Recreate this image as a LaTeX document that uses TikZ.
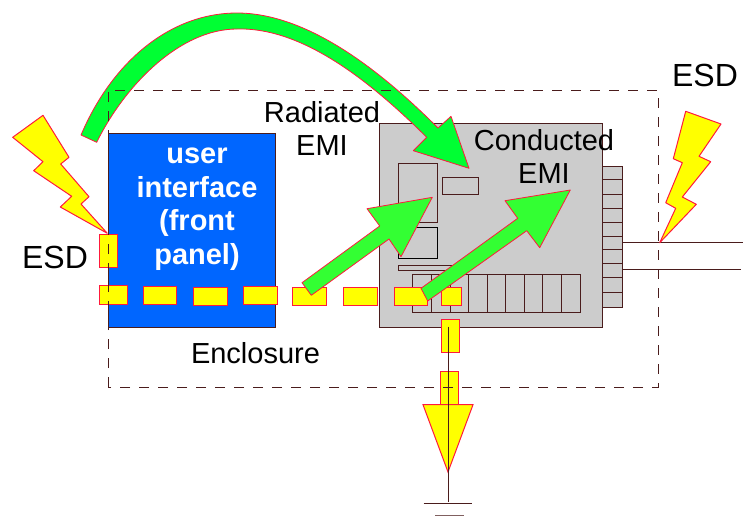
\documentclass[tikz,border=0pt]{standalone}
\usepackage{fontspec}
\setmainfont{Liberation Sans}
\definecolor{wirebrown}{HTML}{4A1C1C}
\definecolor{boardgray}{HTML}{CCCCCC}
\definecolor{panelblue}{HTML}{0066FF}
\definecolor{edgered}{HTML}{FF1A3C}
\definecolor{sparkyellow}{HTML}{FFFF00}
\definecolor{arcgreen}{HTML}{00FF33}
\definecolor{emigreen}{HTML}{33FF33}
\tikzset{
  labeltext/.style={font=\fontsize{29}{33}\selectfont, align=center, anchor=base, inner sep=0pt},
  esdtext/.style={labeltext, font=\fontsize{32}{33}\selectfont},
  paneltext/.style={labeltext, font=\fontsize{29}{33.4}\selectfont\bfseries, text=white},
  wire/.style={draw=wirebrown, line width=1pt},
  part/.style={wire, line width=0.9pt},
  hotspot/.style={draw=edgered, fill=sparkyellow, line width=1pt},
  arcarrow/.style={draw=edgered, fill=arcgreen, line width=0.8pt, line join=round},
  emiarrow/.style={draw=edgered, fill=emigreen, line width=0.8pt, line join=round},
  enclosureline/.style={draw=wirebrown, line width=0.9pt, dash pattern=on 10pt off 9pt}
}
\begin{document}
\begin{tikzpicture}[x=1pt, y=-1pt]
\useasboundingbox (0,0) rectangle (743,523);

\draw[wire, fill=panelblue] (108,133) rectangle (275.5,327);
\draw[wire, fill=boardgray] (379,123) rectangle (602,327);

\draw[part, fill=boardgray] (602,166) rectangle (622,307);
\foreach \y in {179.3,194,208,222,236,249.3,263.3,277.3,292.7}
  \draw[part] (602,\y) -- (622,\y);

\draw[part] (398.7,163.3) rectangle (437.7,222.3);
\draw[part] (442.3,177.3) rectangle (478.7,194.7);
\draw[part, draw=black] (398.7,227) rectangle (437.7,258.3);
\draw[part] (398.7,265.3) rectangle (470,270.7);
\draw[part, fill=boardgray] (412.7,274.3) rectangle (580.3,312.3);
\foreach \x in {431.7,450,468.3,487,505.7,524.3,542.7,561.3}
  \draw[part] (\x,274.3) -- (\x,312.3);

\coordinate (wirea) at (622,242.3);
\coordinate (wirea end) at (743,242.3);
\coordinate (wireb) at (622,269.3);
\coordinate (wireb end) at (741,269.3);
\draw[wire] (wirea) -- (wirea end);
\draw[wire] (wireb) -- (wireb end);

\draw[hotspot] (99.3,285.5) rectangle (127.3,304.3);
\draw[hotspot] (143.5,286) rectangle (176.7,304.3);
\draw[hotspot] (193.3,287.3) rectangle (227,305.3);
\draw[hotspot] (243.3,286) rectangle (277.3,304.3);
\draw[hotspot] (292.3,287) rectangle (326.7,305);
\draw[hotspot] (343.7,287) rectangle (377.7,305);
\draw[hotspot] (394.3,287) rectangle (427.7,305);
\draw[hotspot] (441,287) rectangle (461.7,305);
\draw[hotspot] (99.3,234.3) rectangle (117.3,267.3);

\draw[hotspot] (441.3,319.3) rectangle (459.3,352.7);
\draw[hotspot] (440.3,371.3) rectangle (458.7,404.7);
\draw[hotspot] (423,404.7) -- (473,404.7) -- (448,472) -- cycle;

\draw[hotspot, line join=round] (43,115.3) -- (69,157.3) -- (60.7,164) -- (89,196.7) -- (81,204)
  -- (107.3,233.3) -- (60.3,207) -- (71.7,196.3) -- (33.7,170.7) -- (43,161.7) -- (12.7,137.3) -- cycle;
\draw[hotspot, line join=round] (685.7,111.3) -- (721,124) -- (699,156.3) -- (710.7,161.7) -- (682.3,197)
  -- (696.3,204.3) -- (659.7,242.7) -- (675.7,208.3) -- (665.7,202.7) -- (682.3,162.7) -- (673.3,158.7) -- cycle;

\draw[arcarrow] (81,135) .. controls (112,62) and (170,13) .. (237,13)
  .. controls (310,13) and (385,75) .. (438,128)
  -- (451,116.3) -- (469,168.3) -- (413.3,150.7) -- (426.7,137.3)
  .. controls (375,86) and (305,27) .. (237,29)
  .. controls (180,29) and (125,85) .. (96.7,142.3) -- cycle;

\draw[emiarrow] (302,282.7) -- (379.7,226) -- (367,208.7) -- (432.3,197.3) -- (401,256.7) -- (389,239) -- (311.3,295.3) -- cycle;
\draw[emiarrow] (421,288.3) -- (517.7,218.3) -- (505,200.7) -- (570.3,190) -- (539.7,247.7) -- (526.7,230.7) -- (427.7,301) -- cycle;

\coordinate (gndtop) at (448,326.7);
\coordinate (gndbottom) at (448,501.7);
\draw[wire] (gndtop) -- (gndbottom);
\draw[wire] (423.7,503.3) -- (471.7,503.3);
\draw[wire, draw=wirebrown!70] (435,515) -- (464,515);

\draw[enclosureline] (108,387) -- (108,90) -- (658,90) -- (658,387) -- cycle;

\node[paneltext] (panel) at (197,264) {user\\interface\\(front\\panel)};
\node[labeltext] (radiated) at (322,155.3) {Radiated\\EMI};
\node[labeltext] (conducted) at (544,183.3) {Conducted\\EMI};
\node[esdtext] (esdleft) at (55,268.3) {ESD};
\node[esdtext] (esdright) at (705,86) {ESD};
\node[labeltext] (enclosure) at (255.5,363.3) {Enclosure};
\end{tikzpicture}
\end{document}
